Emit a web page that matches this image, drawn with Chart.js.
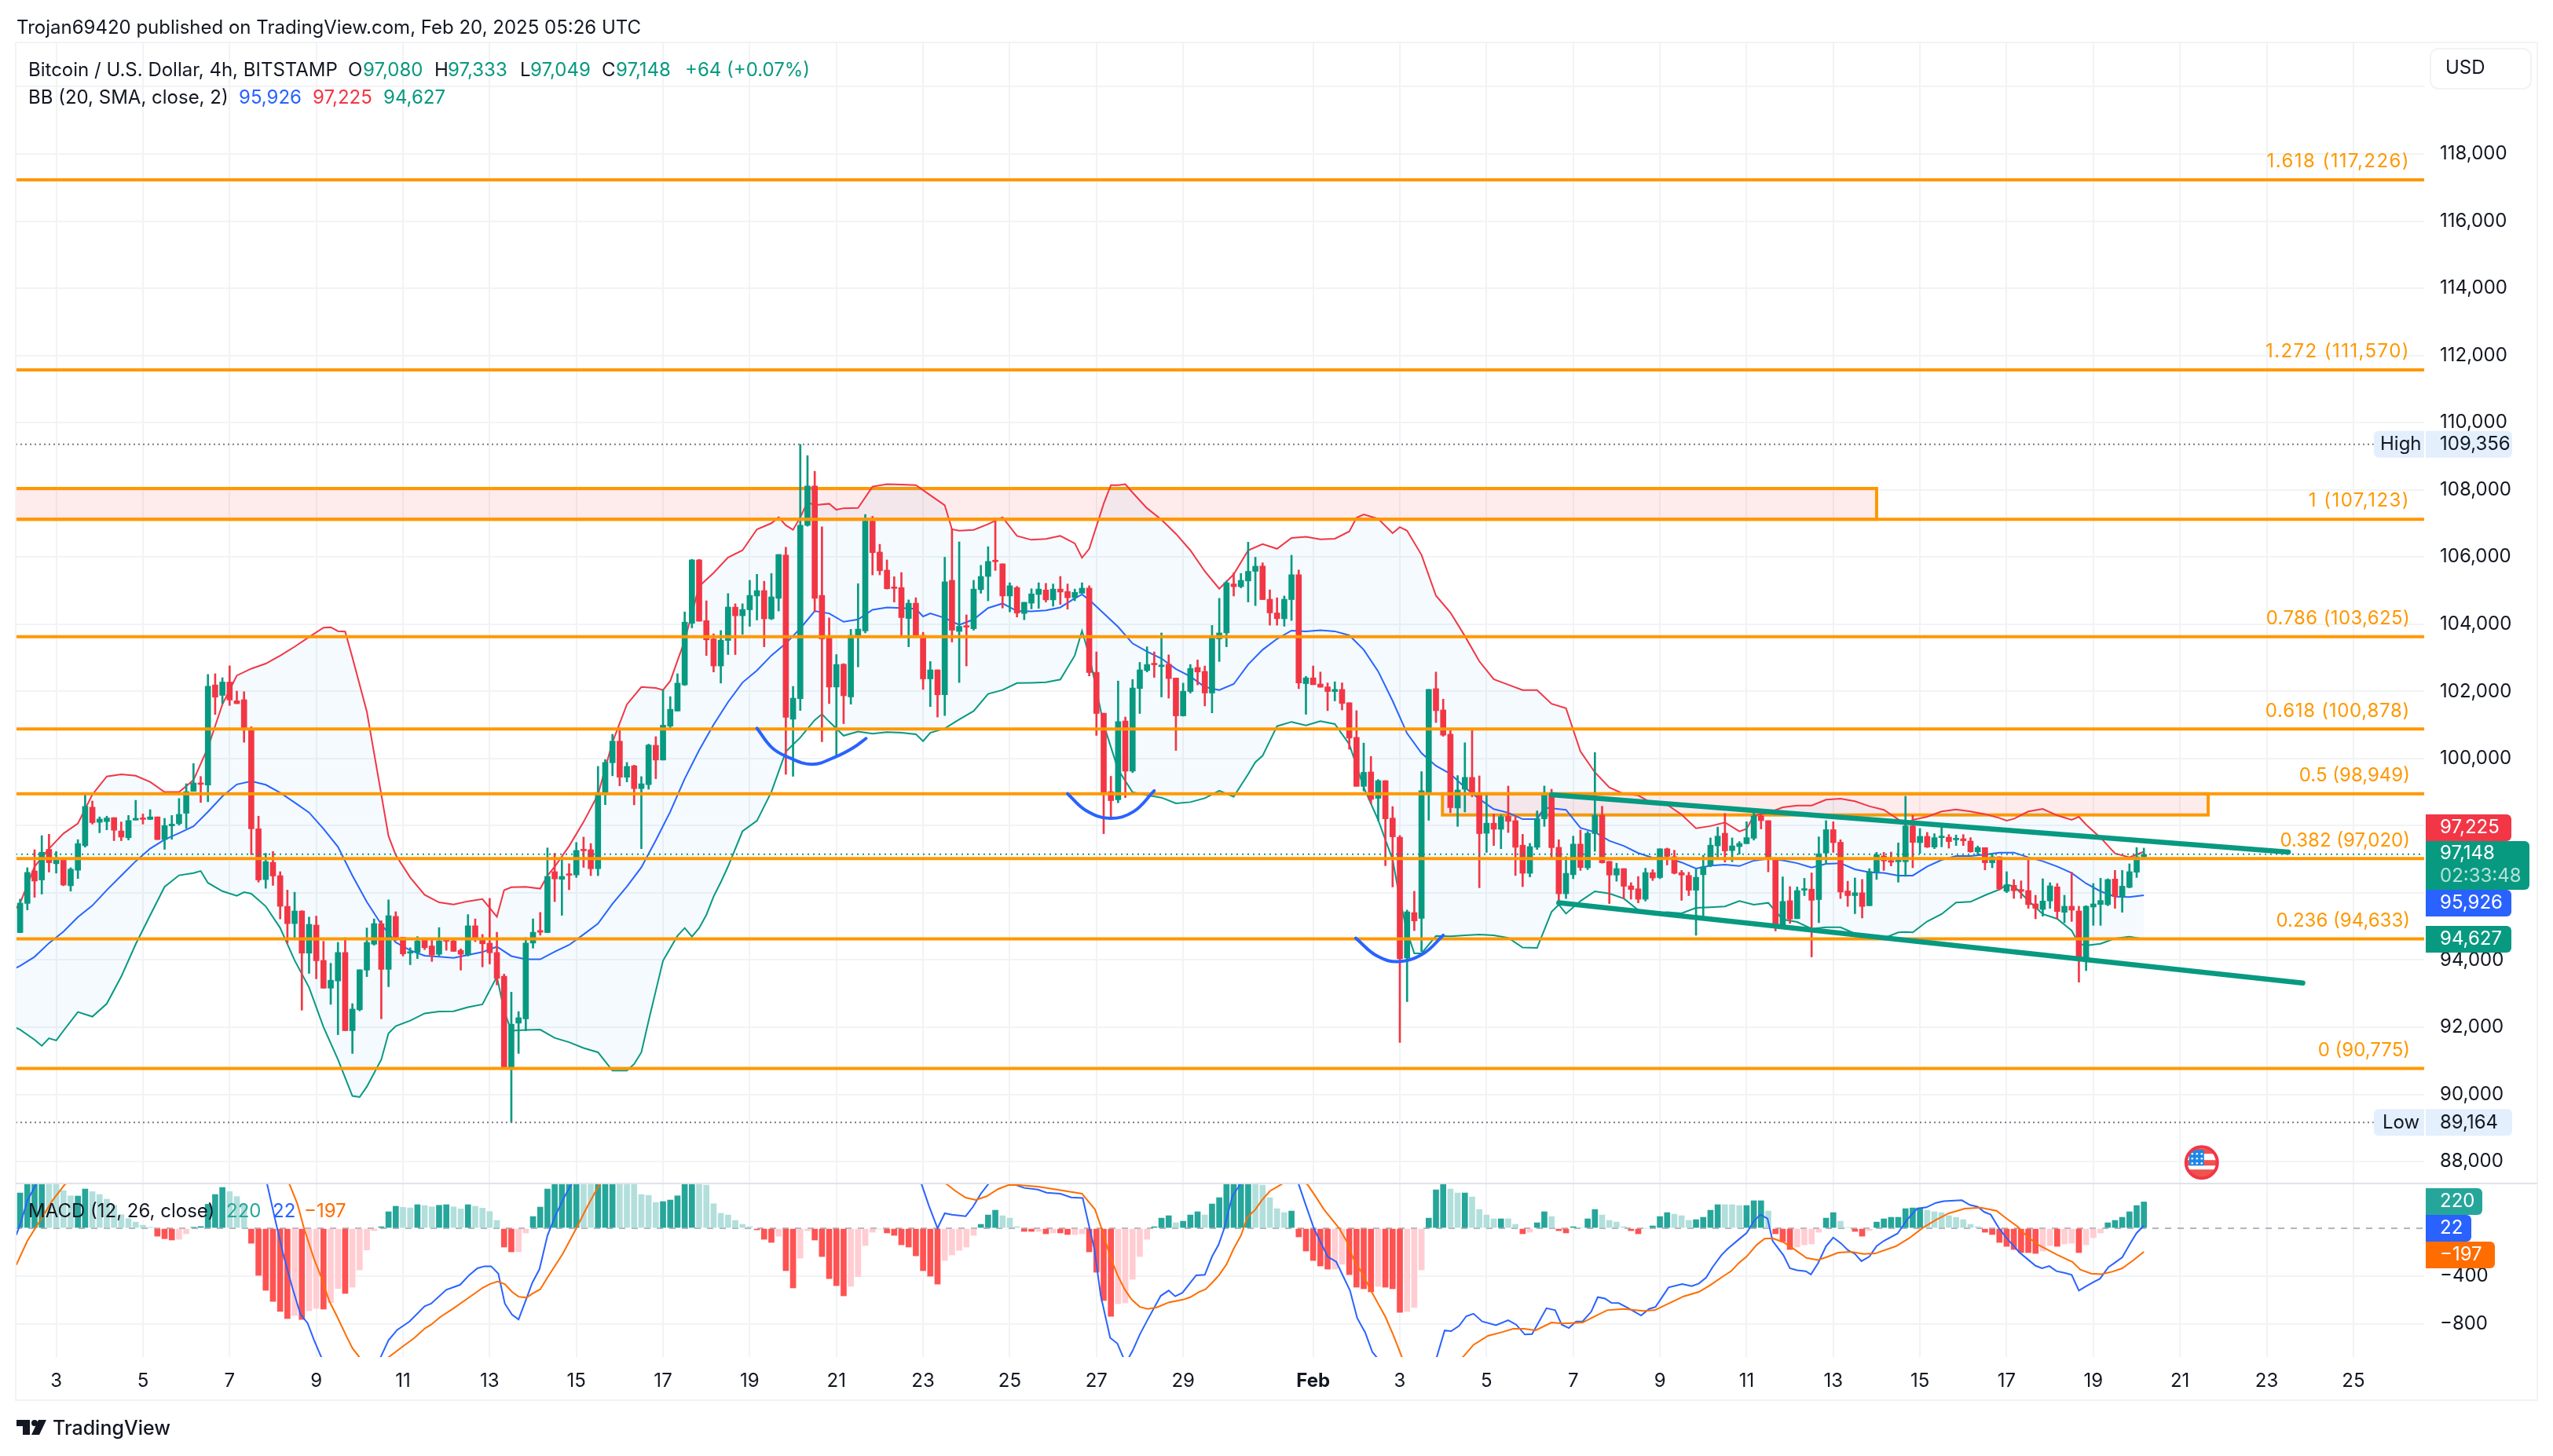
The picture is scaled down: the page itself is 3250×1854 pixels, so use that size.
<!DOCTYPE html>
<html><head><meta charset="utf-8"><title>BTCUSD 4h</title>
<style>html,body{margin:0;padding:0;background:#fff}canvas{display:block}</style>
<script src="https://cdn.jsdelivr.net/npm/chart.js@4/dist/chart.umd.min.js"></script>
</head><body><canvas id="c" width="3250" height="1854"></canvas>
<script>
const firstBar = 7;
const opens = [94817,95686,96652,96384,97296,96867,96974,96212,96674,97404,
98552,98102,98123,98241,97844,97640,98166,98220,98187,98263,
97586,97994,98059,98370,99025,99261,99207,102191,101880,102277,
101719,101751,100860,97908,96395,96910,96513,95600,95085,95461,
94205,95042,93990,93163,93378,94226,91896,92519,93700,94473,
95085,93722,95300,94677,94205,94226,94612,94419,94172,94612,
94570,94290,94151,95020,94612,94505,94226,93518,90748,92122,
92251,94505,94881,94817,96631,96405,96556,96534,97286,97286,
96717,98971,99873,100517,99443,99784,99104,99221,100393,99954,
100965,101413,102191,104025,105913,104106,103560,102755,103515,104508,
104249,104428,104839,105000,104159,104768,106056,101171,101779,106942,
108114,104857,103587,102128,102808,101833,103623,103801,107067,106146,
105609,105090,105090,104168,104625,103667,102370,102639,101896,105305,
103784,103945,103864,105027,105421,105877,105797,104839,105090,104320,
104625,104884,105018,104723,105045,104973,104786,104920,105072,102567,
101350,99015,98773,101118,99623,102084,102620,102817,102737,102808,
102397,101270,101994,102710,102594,101949,103560,103739,105197,105117,
105287,105573,105730,104742,104334,104162,104731,105472,102230,102402,
102219,102133,101994,102058,101661,100631,99171,99600,98816,99342,
98226,97657,94060,95413,95241,98999,102080,101446,100727,98526,
99085,99439,98945,97775,98076,97893,98280,98151,97421,96583,
97357,98205,98924,97357,95972,96540,97453,96745,97764,98312,
96938,96530,96723,96208,96122,95811,96605,96455,97313,97077,
96605,96519,96079,96540,96820,97399,97775,97260,97378,97464,
97625,98290,98151,97045,95038,95768,95231,96079,96111,95800,
97185,97882,97507,96057,95918,96004,95617,96626,97099,96966,
96927,96927,97994,97496,97683,97363,97644,97659,97581,97612,
97542,97223,97347,96896,97075,96046,96225,96101,96069,95672,
95508,95758,96178,95423,95602,95462,94020,95578,95656,95649,
96412,95883,96163,96615,97080];
const highs = [95815,96749,97286,97704,97747,97232,96996,96749,97586,98949,
98735,98263,98284,98241,98112,98305,98756,98348,98477,98263,
98220,98305,98810,99250,99851,99465,102503,102524,102406,102760,
102009,101988,100946,98284,97178,97232,96631,96083,96019,95471,
95278,95310,94559,93904,94526,94666,92702,93711,94956,95225,
95171,95793,95439,94677,94366,94699,94656,94656,94967,94656,
94591,94334,95353,95225,94763,95836,94827,93582,93045,92466,
94666,95225,95418,97339,97178,97049,96867,97500,97661,97468,
99765,99969,100721,100914,99883,99802,99462,100428,100652,102039,
101842,102522,104365,105931,105931,104696,103712,103810,104911,104607,
104607,105305,105484,105278,105510,106074,106289,102146,109356,109018,
108552,106897,104186,103095,102826,103846,105206,107264,107210,106378,
105913,105412,105537,104723,104786,103757,102889,102639,105993,106843,
106450,104276,105305,105752,106307,107157,105797,105233,105126,104651,
105054,105233,105215,105197,105421,105197,105045,105233,105144,103175,
101350,99471,102307,101234,102352,102862,103327,103175,103739,103086,
102397,102245,102799,102934,102755,103963,104768,105287,105528,105510,
106441,105993,105826,105021,104785,104839,106052,105612,102445,102756,
102574,102252,102284,102252,101661,101425,100459,100062,99375,99342,
98569,97711,95488,96047,99611,102058,102574,101768,100856,99493,
100469,100834,99482,98924,98344,98323,99181,98280,97743,97474,
98441,99181,99085,97582,97077,97689,97872,97829,100180,98580,
96938,96884,96723,96304,96487,96734,96691,97313,97335,97270,
96669,96615,96702,97120,97636,97958,98365,97636,97528,98118,
98387,98333,98151,97045,96476,96186,96175,96433,96594,97668,
98151,98118,97582,96347,96444,96401,96723,97206,97206,97215,
97488,98875,98306,97916,97800,97761,97955,97737,97722,97737,
97644,97394,97347,97176,97075,96631,96397,96358,97005,95929,
96420,96303,96280,95929,96615,95602,95617,96280,96436,96420,
96670,96670,96864,97348,97333];
const lows = [94817,95493,95869,95965,96620,96588,96212,96051,96427,97361,
98048,97790,97876,97554,97554,97575,98166,98048,98177,97586,
97296,97597,98016,97919,99025,98692,98713,101311,101633,101580,
101633,100485,97135,96319,96137,96223,95225,94505,94634,92508,
93604,93442,93163,92680,91779,91896,91220,92487,93507,94441,
92251,93206,94580,94119,93861,94044,94312,93958,94129,94290,
94258,93700,94119,94548,93797,93883,93260,90748,89164,91220,
91896,94355,94741,94817,95740,95332,96094,96459,96760,96513,
96513,98627,99486,99186,99304,98621,97315,99086,99400,99954,
100912,101413,102173,103891,104088,103068,102576,102245,103095,103095,
103694,103936,104124,103327,104133,104392,99534,99471,101431,106915,
104365,100500,101636,100089,101037,101618,102728,103739,105466,105466,
105045,104660,103658,103327,103623,102057,101547,101234,101279,103470,
102263,102755,103819,104920,104696,105600,104481,104365,104213,104133,
104455,104472,104660,104535,104589,104446,104696,104920,102459,100688,
97762,98237,98684,98836,99579,101341,102576,102415,101833,101797,
100241,101261,101949,102191,101565,101359,102889,103327,104839,105081,
104660,104553,104731,103969,103969,103937,104109,102080,101317,102198,
102123,101425,101715,101446,100276,99171,99031,98655,98151,96809,
96176,91549,92762,94877,94254,98161,101071,100663,98387,97979,
98408,98859,96154,97206,97410,97313,97797,96519,96186,96476,
97292,97979,96991,95757,95832,96422,96669,96691,97238,96884,
95682,96347,95832,95811,95703,95757,96369,96422,96830,96562,
95778,95918,94737,95295,96777,97045,96916,96927,97152,97464,
97571,97904,96626,94866,95005,95091,95231,95918,94093,95113,
96852,97206,95832,95596,95381,95252,95617,96401,96669,96802,
96319,96490,96747,97176,97348,97316,97371,97332,97410,97410,
97207,97137,96685,96747,96085,96007,95836,95836,95540,95228,
95306,95540,95228,95111,95150,93342,93685,95033,95033,95617,
95540,95423,96147,96459,97049];
const closes = [95697,96609,96352,97210,96899,96996,96234,96706,97468,98574,
98091,98198,98230,97865,97661,98155,98220,98187,98263,97586,
98005,98048,98338,99014,99272,99229,102149,101827,102277,101741,
101633,100860,97908,96384,96931,96502,95600,95085,95461,94205,
95063,93979,93163,93399,94226,91896,92541,93711,94526,95085,
93722,95321,94677,94183,94248,94570,94366,94151,94570,94559,
94258,94172,95020,94612,94484,94215,93453,90748,92090,92283,
94505,94827,94827,96491,96416,96491,96523,97264,97253,96717,
98992,99883,100517,99443,99765,99104,99248,100402,99954,100992,
101466,102245,104061,105913,104088,103533,102755,103524,104508,104249,
104437,104857,105000,104159,104812,106074,101225,101797,106942,108114,
104768,103560,102128,102799,101869,103667,103855,107067,106128,105591,
105054,105063,104195,104625,103631,102370,102639,101896,105260,103819,
103936,103909,105045,105421,105868,105859,104839,105144,104329,104651,
104902,105045,104723,105045,104956,104786,104947,105072,102558,101341,
98997,98746,101100,99623,102102,102639,102799,102790,102773,102379,
101270,102003,102683,102576,101949,103596,103739,105233,105117,105305,
105573,105725,104731,104334,104162,104742,105472,102252,102402,102198,
102123,101994,102058,101640,100609,99171,99589,98784,99342,98205,
97668,94039,95435,95166,99042,102058,101425,100695,98537,99063,
99439,98924,97764,98076,97893,98269,98129,97357,96583,97378,
98215,98945,97346,95972,96583,97453,96755,97775,98312,96895,
96530,96723,96197,96100,95811,96605,96444,97313,97088,96583,
96530,96079,96465,96777,97421,97689,97249,97399,97474,97646,
98290,98151,96991,95005,95746,95220,96068,96111,95778,97163,
97882,97496,96025,95918,96004,95596,96637,97131,96949,96911,
96966,97994,97503,97683,97363,97644,97683,97527,97612,97550,
97223,97347,96896,97075,96116,96241,96062,96046,95649,95540,
95758,96210,95446,95602,95485,94012,95602,95672,95773,96397,
95890,96202,96631,97075,97148];

const bbUpper = [[5,95150],[7,95697],[9,96781],[11,97318],[13,97768],[15,98069],[17,98928],[19,99465],[21,99529],[23,99486],[25,99304],[27,99003],[29,99003],[31,99357],[33,100324],[35,101612],[37,102471],[39,102675],[41,102825],[43,103061],[45,103329],[47,103619],[49,103898],[50,103909],[51,103791],[52,103780],[53,103007],[55,101397],[57,98928],[58,97690],[59,97125],[61,96459],[63,95944],[65,95718],[67,95654],[69,95750],[71,95815],[73,95289],[74,96080],[75,96169],[77,96180],[79,96126],[80,96510],[81,96781],[83,97393],[85,98112],[87,98928],[89,100485],[91,101612],
[93,102128],[95,102101],[96,102039],[97,102307],[99,103515],[101,105126],[103,105528],[105,105985],[107,106199],[109,106825],[111,107005],[112,107183],[113,106942],[114,106808],[115,107183],[116,107631],[117,107541],[119,107586],[120,107407],[121,107452],[123,107461],[125,108096],[127,108168],[129,108159],[131,108141],[133,107837],[135,107541],[136,106825],[137,106781],[139,106808],[141,106978],[143,107183],[145,106629],[147,106512],[149,106539],[151,106629],[153,106405],[154,105976],[155,106244],[157,107586],[158,108141],[159,108141],[160,108168],[161,107917],[163,107452],[165,107112],[167,106691],[169,106199],[171,105573],[173,105054],[175,105484],[177,106199],
[179,106384],[181,106245],[183,106567],[185,106599],[187,106524],[189,106546],[191,106760],[192,107168],[193,107265],[195,107136],[197,106707],[198,106889],[199,106782],[201,106062],[203,104849],[205,104345],[207,103647],[209,102896],[211,102359],[213,102198],[215,102037],[217,102037],[219,101629],[221,101500],[223,100212],[225,99589],[227,99138],[229,98945],[231,98902],[233,98655],[235,98623],[237,98333],[239,97925],[241,97989],[243,98097],[245,97829],[246,97904],[247,98301],[249,98387],[251,98548],[253,98602],[255,98602],[257,98773],[259,98806],[261,98730],[263,98580],[265,98473],
[267,98189],[268,98018],[269,98174],[271,98267],[273,98423],[275,98485],[277,98423],[279,98345],[281,98228],[282,98150],[283,98205],[285,98423],[287,98501],[289,98306],[291,98174],[292,98267],[293,98033],[295,97644],[297,97176],[299,97059],[301,97225]];
const bbMiddle = [[5,93614],[7,93829],[9,94097],[11,94505],[13,94849],[15,95278],[17,95622],[19,96083],[21,96513],[23,96942],[25,97318],[27,97586],[29,97779],[31,97983],[33,98413],[35,98874],[37,99229],[39,99325],[41,99218],[43,98982],[45,98692],[47,98391],[49,97908],[51,97371],[53,96513],[55,95729],[57,95063],[59,94526],[61,94290],[63,94129],[65,94097],[67,94065],[69,94151],[71,94237],[73,94398],[75,94118],[77,94022],[79,94022],[81,94248],[83,94451],[85,94763],[87,95085],[89,95675],[91,96191],
[93,96760],[95,97565],[97,98415],[99,99399],[101,100249],[103,101010],[105,101681],[107,102263],[109,102621],[111,103068],[113,103426],[115,103873],[117,104392],[119,104320],[121,104070],[123,104141],[125,104428],[127,104499],[129,104481],[131,104455],[132,104230],[133,104320],[135,104186],[137,103980],[139,104141],[141,104481],[143,104616],[145,104392],[147,104383],[149,104410],[151,104499],[153,104768],[154,104884],[155,104723],[157,104320],[159,103918],[161,103426],[163,103184],[165,102978],[167,102665],[169,102441],[171,102128],[173,102039],[175,102218],[177,102799],
[179,103239],[181,103561],[183,103808],[185,103787],[187,103819],[189,103787],[191,103669],[193,103239],[195,102595],[197,101715],[199,100749],[201,100158],[203,99782],[205,99546],[207,99138],[209,98795],[211,98494],[213,98387],[215,98194],[217,98194],[218,98537],[219,98516],[221,98473],[223,97936],[225,97807],[227,97549],[229,97399],[231,97185],[233,97045],[235,97045],[237,96906],[239,96723],[241,96809],[243,96841],[245,96798],[247,96959],[249,97013],[251,96970],[253,96884],[255,96755],[257,96863],[259,96884],[261,96702],[263,96615],[265,96594],
[267,96514],[269,96514],[271,96786],[273,96981],[275,97098],[277,97098],[279,97137],[281,97199],[283,97199],[285,97059],[287,96942],[289,96786],[291,96592],[293,96280],[295,96046],[297,95890],[299,95875],[301,95926]];
const bbLower = [[5,92111],[7,91929],[9,91628],[10,91447],[11,91671],[12,91607],[13,91896],[15,92455],[17,92315],[19,92702],[21,93507],[23,94473],[25,95332],[27,96180],[29,96523],[31,96588],[32,96652],[33,96298],[35,96051],[37,95911],[38,96019],[39,95976],[41,95600],[43,94956],[45,93990],[47,93185],[49,92004],[51,91038],[53,89954],[54,89921],[55,90232],[57,91038],[58,91821],[59,92036],[61,92197],[63,92412],[65,92466],[67,92476],[69,92595],[71,92681],[73,93507],[74,92487],[75,91896],[77,91918],[79,91929],[81,91682],[83,91553],[85,91381],
[87,91253],[89,90708],[91,90708],[92,90903],[93,91253],[94,92189],[95,93085],[96,93981],[98,94721],[99,94955],[100,94698],[101,94955],[102,95345],[103,95890],[104,96319],[105,96787],[107,97834],[109,98147],[111,99007],[113,100205],[115,100625],[117,101144],[118,101323],[119,101100],[121,100679],[123,100804],[125,100741],[127,100786],[129,100768],[131,100724],[132,100518],[133,100768],[135,100894],[137,101162],[139,101413],[141,101923],[143,102039],[145,102245],[147,102254],[149,102272],[151,102352],[153,103068],[154,103801],[155,103068],[157,101010],[159,99668],[161,98997],[163,98907],[165,98836],[167,98666],[169,98702],[171,98818],[173,99042],[175,98863],[177,99534],[178,99892],
[179,100083],[181,100963],[183,101092],[185,100985],[187,101113],[189,101028],[191,100426],[193,99138],[195,98172],[197,96991],[198,95811],[199,94844],[200,94200],[201,94200],[203,94716],[205,94705],[207,94737],[209,94759],[211,94737],[213,94662],[215,94372],[217,94361],[219,95435],[220,95649],[221,95381],[223,95757],[225,96047],[227,95982],[229,95832],[231,95488],[233,95381],[235,95424],[237,95392],[239,95553],[241,95574],[243,95596],[245,95757],[247,95649],[249,95703],[251,95209],[253,95134],[255,94930],[257,94973],[259,94973],[261,94791],[263,94721],[265,94650],
[267,94823],[268,94838],[269,94823],[271,95150],[273,95368],[275,95711],[277,95734],[279,95929],[281,96101],[282,96241],[283,96202],[285,95773],[287,95368],[289,95228],[291,94877],[292,94487],[293,94433],[295,94487],[297,94643],[299,94698],[301,94627]];

const histValues = [295,400,400,400,380,375,315,271,269,328,
306,282,243,192,114,81,52,26,9,-66,
-87,-98,-92,-46,9,15,201,282,341,306,
265,195,-125,-393,-518,-610,-695,-754,-728,-761,
-689,-669,-675,-621,-503,-544,-492,-348,-181,-20,
13,138,184,175,170,197,190,179,192,197,
179,162,197,184,168,140,66,-157,-197,-197,
-39,98,177,328,400,400,400,400,380,380,
400,400,400,380,380,380,282,275,216,223,
236,271,400,400,380,360,205,125,111,66,
33,13,-13,-92,-118,-66,-354,-498,-249,-20,
-98,-236,-420,-479,-564,-485,-404,-144,-33,-7,
-39,-59,-138,-157,-230,-354,-400,-466,-269,-223,
-184,-157,-59,33,111,151,105,85,13,-26,
-26,-26,-46,-39,-39,-52,-52,-46,-197,-367,
-603,-735,-630,-623,-426,-236,-92,13,85,105,
46,59,111,138,111,203,256,400,400,400,
400,380,360,256,164,131,144,-72,-190,-269,
-315,-341,-341,-300,-387,-492,-505,-531,-485,-492,
-505,-702,-695,-662,-348,85,321,400,328,295,
295,262,157,111,79,79,79,33,-46,-33,
46,138,98,-20,-39,13,7,79,157,111,
66,52,13,-20,-46,0,20,98,131,118,
105,66,72,92,151,197,197,197,190,190,
230,230,144,-46,-111,-177,-157,-138,-131,-33,
85,131,59,7,-26,-66,-20,52,79,92,
92,164,170,170,151,138,131,105,92,72,
33,13,-33,-52,-118,-151,-177,-203,-203,-210,
-190,-144,-151,-131,-125,-203,-138,-79,-39,46,
66,92,138,190,220];
const histTones = ("ddddlllldd"+"llllllllld"+"ddlldddddl"+"llddddddld"+"lldlldllll"+"dddlldlldd"+"lldllllddl"+"ldddddddll"+"dddlllllld"+"ddddllllll"+
"lldddlddll"+"dddddlllll"+"ddddddddll"+"llldddllld"+"dldlddlldd"+"ddlllllddd"+"ldddlddddd"+"dllllldddd"+"ddllddddld"+"ddllldddll"+
"dlllldlldl"+"ddldddlddl"+"lllddldddl"+"llddddllld"+"ddldddllll"+"ddllddlddd"+"ddddllllll"+"lldddddddd"+"lldlldllld"+"ddddd");

const macdLine = [[5,-200],[6.5,-50],[7,30],[8,230],[9.2,367],[10,420],[15,640],[20,600],[25,520],[30,500],[34,550],[37,650],[40,450],[41.2,367],[42.4,48],[43.5,-236],[44.7,-498],[45.8,-717],[46.8,-793],[47.7,-935],[48.7,-1077],[52,-1400],[56.9,-1077],[58,-935],[59.2,-848],[60.9,-778],[63,-651],[63.9,-629],[66,-513],[67.9,-472],[69.2,-389],[70.3,-334],[71.3,-317],[72.2,-317],[73.2,-378],[74.1,-629],[75.1,-721],[76,-761],[77.1,-586],[77.9,-455],[78.9,-341],[80,-61],[81,92],[82.1,234],[83.3,367],[90,700],[100,1000],[115,800],[125,700],[131.8,367],[132.8,190],[134,0],[135,125],[136,114],[137.9,101],[138.9,179],[140,289],[141,367],[143,500],[144.6,367],[146,337],[147.9,323],[149.1,297],[151,289],[152.5,258],[154.1,253],[154.7,92],[155.7,-170],[156.6,-564],[157.9,-914],[158.9,-962],[159.7,-1077],[160.3,-1100],[161,-1023],[162,-887],[163.1,-761],[164.9,-564],[166,-520],[166.9,-568],[167.9,-538],[169.8,-393],[171,-389],[172,-236],[172.9,-138],[173.7,0],[174.8,267],[175.9,367],[180,650],[184,367],[185,190],[186.1,0],[188,-236],[189.2,-280],[191.1,-520],[192.1,-750],[193.2,-870],[194.2,-1034],[194.8,-1077],[198,-1350],[203.1,-1077],[204.2,-853],[205.1,-859],[206.2,-815],[207.2,-734],[208.2,-713],[209.4,-778],[211.3,-809],[213,-767],[214.1,-804],[215.3,-887],[216.3,-883],[218.3,-667],[219.5,-684],[220.4,-804],[221.4,-833],[222.4,-778],[223.3,-778],[224.5,-695],[225.4,-575],[226.4,-586],[227.3,-623],[228.3,-625],[229.5,-662],[231.4,-728],[232.5,-673],[233.4,-656],[235.2,-494],[237.1,-466],[238.4,-483],[239.4,-461],[240.4,-411],[241.3,-324],[242.5,-225],[243.4,-170],[244.9,-94],[246,-39],[247,59],[247.9,114],[248.9,81],[249.6,-105],[251.1,-225],[252,-334],[253,-350],[254.2,-358],[254.9,-385],[255.9,-291],[257,-149],[258,-77],[259.1,-127],[260,-181],[261,-214],[261.9,-275],[263,-236],[264,-149],[265,-105],[266.9,-44],[268.2,70],[269.6,164],[270.9,175],[272.2,212],[273.3,227],[275.8,234],[276.9,195],[278,179],[278.9,136],[279.8,114],[280.9,4],[282,-83],[283.8,-203],[284.9,-258],[286,-313],[286.9,-334],[287.9,-315],[288.9,-358],[290,-372],[291,-389],[292,-520],[292.9,-487],[294,-450],[294.9,-422],[296.1,-324],[296.9,-291],[298,-243],[299,-138],[300,-39],[301,22]];
const signalLine = [[5,-420],[6.5,-302],[8,-105],[9.6,48],[11.5,234],[13.2,367],[20,580],[30,600],[40,560],[44.3,367],[45.4,201],[46.3,0],[47.7,-258],[48.7,-411],[49.8,-608],[50.9,-739],[52.1,-892],[53,-1001],[53.9,-1071],[55,-1180],[58,-1077],[59.9,-990],[61.6,-914],[63,-837],[63.9,-804],[65.2,-739],[66.9,-673],[69.2,-575],[71,-498],[72,-466],[73.1,-444],[74.1,-466],[75.1,-531],[76,-571],[77.1,-579],[77.9,-546],[79,-509],[80,-411],[82.1,-214],[84,0],[85.5,179],[87.2,367],[100,800],[120,800],[135.3,367],[136.4,315],[137.9,256],[139.3,236],[140.8,267],[142.4,328],[143.8,361],[145.2,361],[147.9,348],[150.5,323],[154,289],[154.9,223],[155.8,157],[156.7,0],[157.9,-236],[158.9,-389],[159.9,-509],[160.9,-597],[162,-656],[163.1,-673],[164.3,-662],[166,-619],[167.9,-597],[169,-575],[170.2,-531],[171.1,-509],[172,-455],[173,-389],[174,-302],[175,-170],[176,-61],[176.9,92],[178,157],[178.9,234],[180,310],[181.6,367],[183,420],[185.2,367],[186.2,278],[187.5,157],[189.6,0],[190.6,-105],[191.6,-258],[192.9,-389],[194.1,-531],[195,-630],[196,-739],[197.1,-892],[198.3,-1077],[201,-1250],[206.7,-1077],[208.2,-973],[210.2,-898],[212.2,-866],[213.7,-839],[215.2,-839],[216.8,-852],[219,-787],[220.6,-794],[223.3,-787],[225.2,-728],[226.7,-684],[229,-673],[231.7,-689],[233.3,-684],[234.8,-640],[237.3,-568],[239.4,-531],[240.9,-477],[242.5,-411],[243.9,-356],[244.9,-291],[246,-236],[247.4,-138],[248.5,-87],[249.6,-83],[251.1,-116],[252.5,-171],[254.3,-247],[255.9,-265],[257.3,-236],[258.7,-203],[260.5,-197],[262.2,-214],[263.8,-210],[266.7,-149],[268.5,-83],[270.4,4],[272.2,70],[274,125],[276.2,164],[278.4,173],[280.6,146],[282,81],[283.5,15],[284.9,-72],[286.4,-138],[288.9,-219],[291.1,-280],[292.2,-345],[293.7,-378],[295.1,-383],[296.6,-363],[298,-334],[299.5,-269],[301,-197]];

const fibRatios = ["1.618","1.272","1","0.786","0.618","0.5","0.382","0.236","0"];
const fibPrices = [117226,111570,107123,103625,100878,98949,97020,94633,90775];
const zoneOne = {fromBar:0,toBar:264,top:108040,bottom:107123};
const zoneTwo = {fromBar:203.9,toBar:309.9,top:98949,bottom:98320};
const trendUpper = [[219,98922],[321,97215]];
const trendLower = [[220,95705],[323,93318]];
const arcOne = [[109,100903],[111,100340],[113,100071],[116.6,99829],[120.1,100071],[122.4,100330],[124.1,100599]];
const arcTwo = [[152,98952],[154.5,98460],[157.8,98219],[161.1,98415],[164,99042]];
const arcThree = [[191.9,94651],[194.9,94114],[197.9,93953],[201.3,94200],[204,94737]];
const highPrice = 109356, lowPrice = 89164, lastPrice = 97148;

const priceTicks = [120000,118000,116000,114000,112000,110000,108000,106000,104000,102000,100000,98000,96000,94000,92000,90000,88000];
const hiddenPriceTicks = [120000,98000,96000];
const macdTicks = [-800,-400,0];
const dayTickBars = [12,24,36,48,60,72,84,96,108,120,132,144,156,168,186,198,210,222,234,246,258,270,282,294,306,318,330];
const dayTickLabels = ["3","5","7","9","11","13","15","17","19","21","23","25","27","29","Feb","3","5","7","9","11","13","15","17","19","21","23","25"];

const FONT = 'Inter, "Noto Sans", sans-serif';
const GREEN='#089981', RED='#f23645', BLUE='#2962ff', ORANGE='#ff9800', MACDO='#ff6d00', TEAL='#26a69a', INK='#131722', GRID='#f2f3f5';
const barNum = k => firstBar + k;
const pts = a => a.map(p => ({x:p[0], y:p[1]}));
const X_MIN = 6.39, X_MAX = 339.8;

function lineSet(data, color, width, order, yAxisID, extra){
  return Object.assign({type:'line', data:pts(data), borderColor:color, borderWidth:width, pointRadius:0, order, yAxisID:yAxisID||'y', xAxisID:'x', tension:0, fill:false}, extra||{});
}
const candleColors = closes.map((c,k)=> c>=opens[k] ? GREEN : RED);
const histColors = histValues.map((v,k)=>{const dark=histTones[k]==='d'; return v>=0?(dark?TEAL:'#b2dfdb'):(dark?'#ff5252':'#ffcdd2');});
const BBFILL='rgba(33,150,243,0.05)';

const datasets = [
  lineSet(bbUpper, RED, 2, 10, 'y', {fill:{target:2, above:BBFILL, below:BBFILL}}),
  lineSet(bbMiddle, BLUE, 2, 10),
  lineSet(bbLower, GREEN, 2, 10),
  {type:'bar', order:6, grouped:false, barThickness:2, yAxisID:'y', xAxisID:'x', backgroundColor:candleColors,
   data:highs.map((h,k)=>({x:barNum(k), y:[lows[k],h]}))},
  {type:'bar', order:5, grouped:false, barThickness:7, minBarLength:2, yAxisID:'y', xAxisID:'x', backgroundColor:candleColors,
   data:opens.map((o,k)=>({x:barNum(k), y:[o,closes[k]]}))},
  lineSet([[X_MIN,lastPrice],[X_MAX,lastPrice]], GREEN, 2, 4, 'y', {borderDash:[2,5]}),
  lineSet([[X_MIN,highPrice],[X_MAX-7,highPrice]], '#787b86', 2, 4, 'y', {borderDash:[2,4]}),
  lineSet([[X_MIN,lowPrice],[X_MAX-7,lowPrice]], '#787b86', 2, 4, 'y', {borderDash:[2,4]})
];
fibPrices.forEach(p=>datasets.push(lineSet([[X_MIN,p],[X_MAX,p]], ORANGE, 4, 3)));
[trendUpper,trendLower].forEach(t=>datasets.push(lineSet(t, GREEN, 6.5, 2, 'y', {borderCapStyle:'round'})));
[arcOne,arcTwo,arcThree].forEach(a=>datasets.push(lineSet(a, BLUE, 4, 1, 'y', {tension:0.4, borderCapStyle:'round'})));
datasets.push({type:'bar', order:7, grouped:false, barThickness:7, yAxisID:'m', xAxisID:'x', backgroundColor:histColors,
  data:histValues.map((v,k)=>({x:barNum(k), y:v}))});
datasets.push(lineSet([[X_MIN,0],[X_MAX,0]], '#b2b5be', 2, 8, 'm', {borderDash:[8,8]}));
datasets.push(lineSet(macdLine, BLUE, 2, 6, 'm'));
datasets.push(lineSet(signalLine, MACDO, 2, 5, 'm'));

function txt(ctx,s,x,y,color,font,align){
  ctx.fillStyle=color; ctx.font=font||('24px '+FONT); ctx.textAlign=align||'left'; ctx.textBaseline='middle'; ctx.fillText(s,x,y);
}
function box(ctx,x,y,w,h,color,r){
  ctx.fillStyle=color; ctx.beginPath(); ctx.roundRect(x,y,w,h,r===undefined?[0,6,6,0]:r); ctx.fill();
}
const overlay = {
  id:'overlay',
  beforeDatasetsDraw(chart){
    const {ctx,scales:{x,y},chartArea:ca}=chart;
    ctx.save();
    ctx.beginPath(); ctx.rect(ca.left,y.top,ca.right-ca.left,y.bottom-y.top); ctx.clip();
    [zoneOne,zoneTwo].forEach(z=>{
      const l=x.getPixelForValue(z.fromBar), r=x.getPixelForValue(z.toBar), t=y.getPixelForValue(z.top), b=y.getPixelForValue(z.bottom);
      ctx.fillStyle='rgba(242,54,69,0.1)'; ctx.fillRect(l,t,r-l,b-t);
      ctx.strokeStyle=ORANGE; ctx.lineWidth=4; ctx.strokeRect(l,t,r-l,b-t);
    });
    ctx.restore();
  },
  afterDraw(chart){
    const {ctx,scales:{x,y,m},chartArea:ca}=chart;
    ctx.save();
    ctx.strokeStyle=GRID; ctx.lineWidth=2;
    ctx.strokeRect(20,54,3210,1729);
    ctx.strokeStyle='#e0e3eb'; ctx.beginPath(); ctx.moveTo(20,m.top); ctx.lineTo(3230,m.top); ctx.stroke();
    txt(ctx,'Trojan69420 published on TradingView.com, Feb 20, 2025 05:26 UTC',21,36,INK);
    txt(ctx,'Bitcoin / U.S. Dollar, 4h, BITSTAMP',36,90,INK);
    [['O',443,INK],['97,080',462,GREEN],['H',553,INK],['97,333',570,GREEN],['L',662,INK],['97,049',675,GREEN],['C',766,INK],['97,148',784,GREEN],['+64 (+0.07%)',872,GREEN]].forEach(e=>txt(ctx,e[0],e[1],90,e[2]));
    txt(ctx,'BB (20, SMA, close, 2)',36,125,INK);
    txt(ctx,'95,926',304,125,BLUE); txt(ctx,'97,225',398,125,RED); txt(ctx,'94,627',488,125,GREEN);
    txt(ctx,'MACD (12, 26, close)',36,1543,INK);
    txt(ctx,'220',288,1543,TEAL); txt(ctx,'22',347,1543,BLUE); txt(ctx,'\u2212197',387,1543,MACDO);
    ctx.font='24px '+FONT;
    const oneGap=ctx.measureText('0').width-ctx.measureText('1').width;
    fibRatios.forEach((r,k)=>{
      const s=r+' ('+fibPrices[k].toLocaleString('en-US')+')';
      const ones=s.split('1').length-1;
      ctx.letterSpacing=(ones*oneGap/s.length).toFixed(2)+'px';
      txt(ctx,s,3068,y.getPixelForValue(fibPrices[k])-23,ORANGE,'24px '+FONT,'right');
    });
    ctx.letterSpacing='0px';
    ctx.strokeStyle=GRID; ctx.lineWidth=2; ctx.beginPath(); ctx.roundRect(3094,62,128,51,10); ctx.stroke();
    txt(ctx,'USD',3113,87,INK);
    const hy=y.getPixelForValue(highPrice), ly=y.getPixelForValue(lowPrice);
    box(ctx,3022,hy-17,64,34,'#e3effd',[6,0,0,6]); box(ctx,3088,hy-17,110,34,'#e3effd');
    txt(ctx,'High',3030,hy,INK); txt(ctx,'109,356',3106,hy,INK);
    box(ctx,3022,ly-17,64,34,'#e3effd',[6,0,0,6]); box(ctx,3088,ly-17,110,34,'#e3effd');
    txt(ctx,'Low',3033,ly,INK); txt(ctx,'89,164',3106,ly,INK);
    box(ctx,3088,1037,109,34,RED); txt(ctx,'97,225',3106,1054,'#fff');
    box(ctx,3088,1071,132,62,GREEN); txt(ctx,'97,148',3106,1087,'#fff'); txt(ctx,'02:33:48',3106,1116,'rgba(255,255,255,0.7)');
    box(ctx,3088,1133,109,34,BLUE); txt(ctx,'95,926',3106,1150,'#fff');
    box(ctx,3088,1179,109,34,GREEN); txt(ctx,'94,627',3106,1196,'#fff');
    box(ctx,3088,1513,72,34,TEAL); txt(ctx,'220',3106,1530,'#fff');
    box(ctx,3088,1547,58,34,BLUE); txt(ctx,'22',3106,1564,'#fff');
    box(ctx,3088,1581,88,34,MACDO); txt(ctx,'\u2212197',3106,1598,'#fff');
    const fx=x.getPixelForValue(309), fy=y.getPixelForValue(87975);
    ctx.save();
    ctx.beginPath(); ctx.arc(fx,fy,19,0,Math.PI*2); ctx.fillStyle='#fff'; ctx.fill(); ctx.clip();
    ctx.fillStyle='#ef5350'; ctx.fillRect(fx-20,fy-18,40,7); ctx.fillRect(fx-20,fy-3,40,7); ctx.fillRect(fx-20,fy+9,40,12);
    ctx.fillStyle='#1e88e5'; ctx.fillRect(fx-16,fy-16,19,20);
    ctx.fillStyle='#fff';
    for(let r=0;r<3;r++)for(let c=0;c<3;c++){ctx.beginPath();ctx.arc(fx-12+c*6,fy-11+r*6,1.3,0,Math.PI*2);ctx.fill();}
    ctx.restore();
    ctx.strokeStyle=RED; ctx.lineWidth=4; ctx.beginPath(); ctx.arc(fx,fy,20,0,Math.PI*2); ctx.stroke();
    ctx.fillStyle=INK;
    ctx.beginPath(); ctx.moveTo(21,1808); ctx.lineTo(38,1808); ctx.lineTo(38,1827); ctx.lineTo(29,1827); ctx.lineTo(29,1816); ctx.lineTo(21,1816); ctx.closePath(); ctx.fill();
    ctx.beginPath(); ctx.arc(44,1812,4,0,Math.PI*2); ctx.fill();
    ctx.beginPath(); ctx.moveTo(49,1808); ctx.lineTo(59,1808); ctx.lineTo(50,1827); ctx.lineTo(40,1827); ctx.closePath(); ctx.fill();
    txt(ctx,'TradingView',67,1819,INK,'500 25px '+FONT);
    ctx.restore();
  }
};

new Chart(document.getElementById('c'),{
  type:'bar',
  data:{datasets},
  plugins:[overlay],
  options:{
    responsive:false, animation:false, devicePixelRatio:1,
    layout:{padding:{left:20,top:54,right:20,bottom:71}},
    plugins:{legend:{display:false},tooltip:{enabled:false}},
    events:[],
    scales:{
      x:{type:'linear',position:'bottom',min:X_MIN,max:X_MAX,offset:false,bounds:'data',
        afterFit(s){s.height=55;},
        afterBuildTicks(s){s.ticks=dayTickBars.map(v=>({value:v}));},
        grid:{color:GRID,lineWidth:2,drawTicks:false,offset:false},border:{display:false},
        ticks:{autoSkip:false,maxRotation:0,padding:16,color:INK,
          font:c=>({family:FONT,size:24,weight:(c.tick&&c.index===14)?'700':'400'}),
          callback:(v,i)=>dayTickLabels[i]}},
      y:{type:'linear',position:'right',stack:'panes',stackWeight:1453,min:87348,max:121320,bounds:'data',
        afterFit(s){s.width=144;},
        afterBuildTicks(s){s.ticks=priceTicks.map(v=>({value:v}));},
        grid:{color:GRID,lineWidth:2,drawTicks:false},border:{display:false},
        ticks:{padding:20,color:INK,font:{family:FONT,size:24},autoSkip:false,
          callback:v=>hiddenPriceTicks.includes(v)?'':v.toLocaleString('en-US')}},
      m:{type:'linear',position:'right',stack:'panes',stackWeight:221,min:-1075,max:374,bounds:'data',
        afterFit(s){s.width=144;},
        afterBuildTicks(s){s.ticks=macdTicks.map(v=>({value:v}));},
        grid:{color:c=>c.tick&&c.tick.value===0?'rgba(0,0,0,0)':GRID,lineWidth:2,drawTicks:false},border:{display:false},
        ticks:{padding:20,color:INK,font:{family:FONT,size:24},autoSkip:false,
          callback:v=>v===0?'':'\u2212'+Math.abs(v)}}
    }
  }
});
</script></body></html>
